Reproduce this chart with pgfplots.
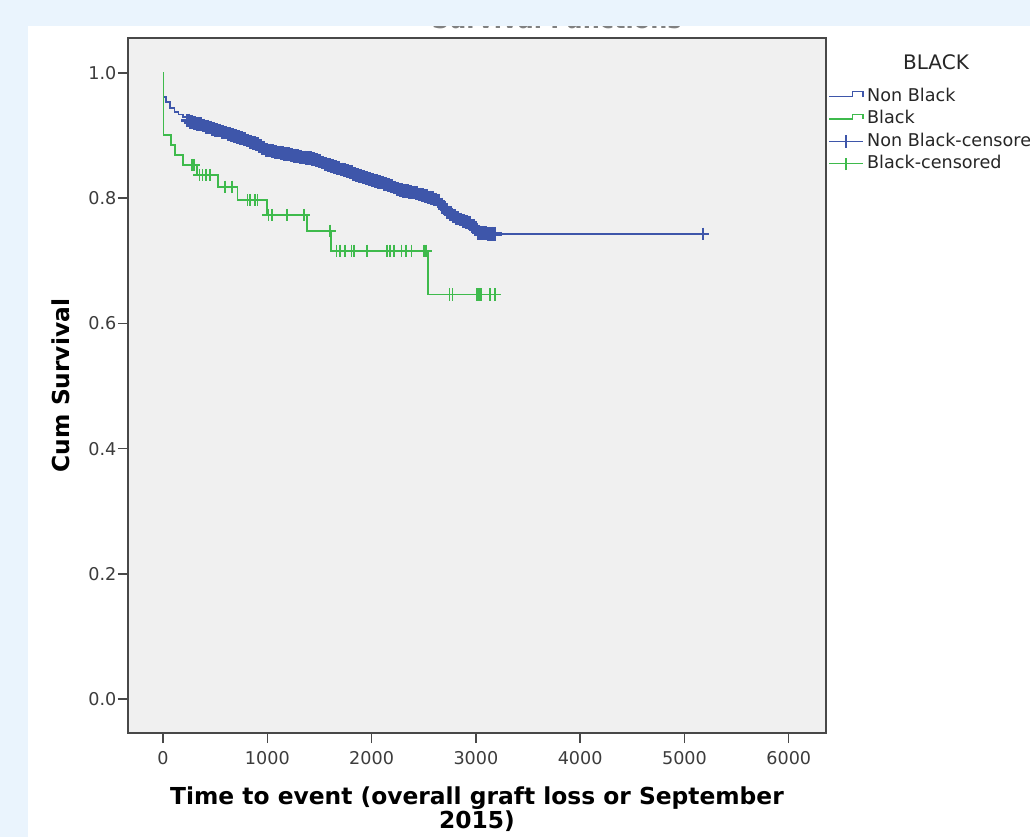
\documentclass[border=0pt]{standalone}
\usepackage{fontspec}
\setmainfont{DejaVu Sans}
\usepackage{pgfplots}
\pgfplotsset{compat=1.18}

\definecolor{spssblue}{RGB}{62,86,170}
\definecolor{spssgreen}{RGB}{62,186,76}
\definecolor{plotgray}{RGB}{240,240,240}
\definecolor{outerblue}{RGB}{234,244,253}
\definecolor{framegray}{RGB}{72,72,72}
\definecolor{ticktext}{RGB}{60,60,60}

\begin{document}
\begin{tikzpicture}
% page: 1030x837 px at 1.6 px per pt, origin = lower left corner of the plot box
\useasboundingbox (-80pt,-65pt) rectangle (563.75pt,458.125pt);
\clip (-80pt,-65pt) rectangle (563.75pt,458.125pt);
\fill[outerblue] (-80pt,-65pt) rectangle (563.75pt,458.125pt);
\fill[white] (-62.5pt,-65pt) rectangle (563.75pt,441.875pt);
\node[anchor=base,text=gray,font=\bfseries\fontsize{15}{18}\selectfont] at (268pt,440.6pt) {Survival Functions};
\fill[outerblue] (-80pt,441.875pt) rectangle (563.75pt,458.125pt);

\begin{axis}[
  at={(0pt,0pt)}, anchor=south west,
  scale only axis, width=436.25pt, height=434.375pt,
  xmin=-336, xmax=6357, ymin=-0.0543, ymax=1.0559,
  xtick={0,1000,2000,3000,4000,5000,6000},
  ytick={0,0.2,0.4,0.6,0.8,1.0},
  scaled x ticks=false,
  xticklabel style={/pgf/number format/1000 sep={}, yshift=-2pt},
  yticklabel style={/pgf/number format/.cd,fixed,fixed zerofill,precision=1, /tikz/xshift=2.5pt},
  /pgf/number format/assume math mode=true,
  ticklabel style={font=\fontsize{11}{13}\selectfont, text=ticktext},
  tick align=outside, xtick pos=lower, ytick pos=left,
  major tick length=6.25pt,
  tick style={draw=framegray, line width=0.9pt},
  axis line style={draw=framegray, line width=1.2pt},
  axis background/.style={fill=plotgray},
  clip=false,
  xlabel={Time to event (overall graft loss or September\\2015)},
  ylabel={Cum Survival},
  every axis x label/.style={at={(rel axis cs:0.5,-0.1094)}, anchor=center, align=center,
    font=\bfseries\fontsize{14.6}{15}\selectfont},
  every axis y label/.style={at={(rel axis cs:-0.096,0.5)}, rotate=90, anchor=center,
    font=\bfseries\fontsize{14.6}{17}\selectfont},
  legend style={at={(1.003,0.930)}, anchor=north west, draw=none, fill=none, inner sep=0pt,
    font=\fontsize{11}{13}\selectfont, row sep=2pt,
    nodes={inner sep=0.5pt, text height=8.5pt, text depth=2.5pt, text=black!85},
    /tikz/every odd column/.append style={column sep=1.7pt}},
  legend cell align=left,
]
% Non Black: Kaplan-Meier steps
\addplot[const plot, spssblue, line width=1pt,
  legend image code/.code={\draw[spssblue,line width=0.8pt] (0pt,0pt) -- (14.8pt,0pt) -- (14.8pt,3pt) -- (21.2pt,3pt) -- (21.2pt,0pt);}]
coordinates {
(0,1.000) (3,0.962) (30,0.954) (67,0.944) (110,0.938) (150,0.934) (192,0.930) (259,0.922)
(350,0.918) (450,0.913) (518,0.909) (600,0.905) (700,0.899) (834,0.890) (920,0.884)
(997,0.877) (1070,0.874) (1150,0.872) (1230,0.869) (1313,0.866) (1400,0.864) (1476,0.861)
(1540,0.856) (1601,0.852) (1700,0.847) (1793,0.842) (1850,0.838) (1918,0.834) (2000,0.830)
(2080,0.826) (2160,0.821) (2243,0.815) (2340,0.811) (2435,0.808) (2500,0.804) (2560,0.800)
(2627,0.797) (2680,0.788) (2723,0.778) (2770,0.773) (2819,0.768) (2880,0.764) (2943,0.760)
(2990,0.752) (3039,0.744) (3100,0.743) (5177,0.743)
};
% Black: Kaplan-Meier steps
\addplot[const plot, spssgreen, line width=1.1pt,
  legend image code/.code={\draw[spssgreen,line width=0.8pt] (0pt,0pt) -- (14.8pt,0pt) -- (14.8pt,3pt) -- (21.2pt,3pt) -- (21.2pt,0pt);}]
coordinates {
(0,1.000) (4,0.901) (74,0.885) (115,0.869) (195,0.853) (323,0.837) (530,0.818)
(713,0.797) (994,0.773) (1384,0.748) (1611,0.716) (2544,0.646) (3183,0.646)
};
% Non Black censored (dense band)
\addplot[only marks, mark=+, mark size=4.3pt, spssblue, mark options={line width=2.2pt},
  legend image code/.code={\draw[spssblue,line width=0.8pt] (0pt,0pt) -- (21.2pt,0pt); \draw[spssblue,line width=0.8pt] (10.6pt,-3.9pt) -- (10.6pt,3.9pt);}]
coordinates {
(240,0.924) (270,0.922) (300,0.920) (330,0.919) (360,0.918) (390,0.916) (420,0.914)
(450,0.913) (480,0.911) (510,0.909) (540,0.908) (570,0.906) (600,0.905) (630,0.903)
(660,0.901) (690,0.899) (720,0.898) (750,0.896) (780,0.894) (810,0.892) (840,0.890)
(870,0.888) (900,0.886) (930,0.883) (960,0.880) (990,0.877) (1020,0.876) (1050,0.875)
(1080,0.874) (1110,0.873) (1140,0.872) (1170,0.871) (1200,0.870) (1230,0.869) (1260,0.868)
(1290,0.867) (1320,0.866) (1350,0.865) (1380,0.864) (1410,0.864) (1440,0.862) (1470,0.861)
(1500,0.859) (1530,0.857) (1560,0.855) (1590,0.853) (1620,0.851) (1650,0.850) (1680,0.848)
(1710,0.846) (1740,0.845) (1770,0.843) (1800,0.842) (1830,0.839) (1860,0.837) (1890,0.836)
(1920,0.834) (1950,0.832) (1980,0.831) (2010,0.829) (2040,0.828) (2070,0.826) (2100,0.825)
(2130,0.823) (2160,0.821) (2190,0.819) (2220,0.817) (2250,0.815) (2280,0.813) (2310,0.812)
(2340,0.811) (2370,0.810) (2400,0.809) (2430,0.808) (2460,0.806) (2490,0.805) (2520,0.803)
(2550,0.801) (2580,0.800) (2610,0.798) (2640,0.795) (2670,0.790) (2700,0.784) (2730,0.777)
(2760,0.774) (2790,0.771) (2820,0.768) (2850,0.766) (2880,0.764) (2910,0.762) (2940,0.760)
(2970,0.755) (3000,0.750) (3030,0.745) (3060,0.744) (3090,0.744) (3120,0.743) (3150,0.743)
(3180,0.743)
};
% Black censored
\addplot[only marks, mark=+, mark size=3.9pt, spssgreen, mark options={line width=1pt},
  legend image code/.code={\draw[spssgreen,line width=0.8pt] (0pt,0pt) -- (21.2pt,0pt); \draw[spssgreen,line width=0.8pt] (10.6pt,-3.9pt) -- (10.6pt,3.9pt);}]
coordinates {
(275,0.853) (297,0.853)
(348,0.837) (380,0.837) (412,0.837) (450,0.837)
(594,0.818) (659,0.818)
(808,0.797) (834,0.797) (882,0.797) (904,0.797)
(1010,0.773) (1042,0.773) (1186,0.773) (1352,0.773)
(1601,0.748)
(1665,0.716) (1697,0.716) (1745,0.716) (1809,0.716) (1831,0.716) (1953,0.716) (2145,0.716)
(2176,0.716) (2215,0.716) (2288,0.716) (2330,0.716) (2384,0.716) (2502,0.716) (2522,0.716)
(2745,0.646) (2774,0.646) (3008,0.646) (3020,0.646) (3030,0.646) (3042,0.646) (3055,0.646)
(3135,0.646) (3183,0.646)
};
% last Non Black censored case, drawn thin
\addplot[forget plot, only marks, mark=+, mark size=3.9pt, spssblue, mark options={line width=0.8pt}]
coordinates {(5177,0.743)};
\legend{Non Black, Black, Non Black-censored, Black-censored}
\node[font=\fontsize{12.5}{15}\selectfont, text=black!85] at (rel axis cs:1.1576,0.9655) {BLACK};
\end{axis}
\end{tikzpicture}
\end{document}
